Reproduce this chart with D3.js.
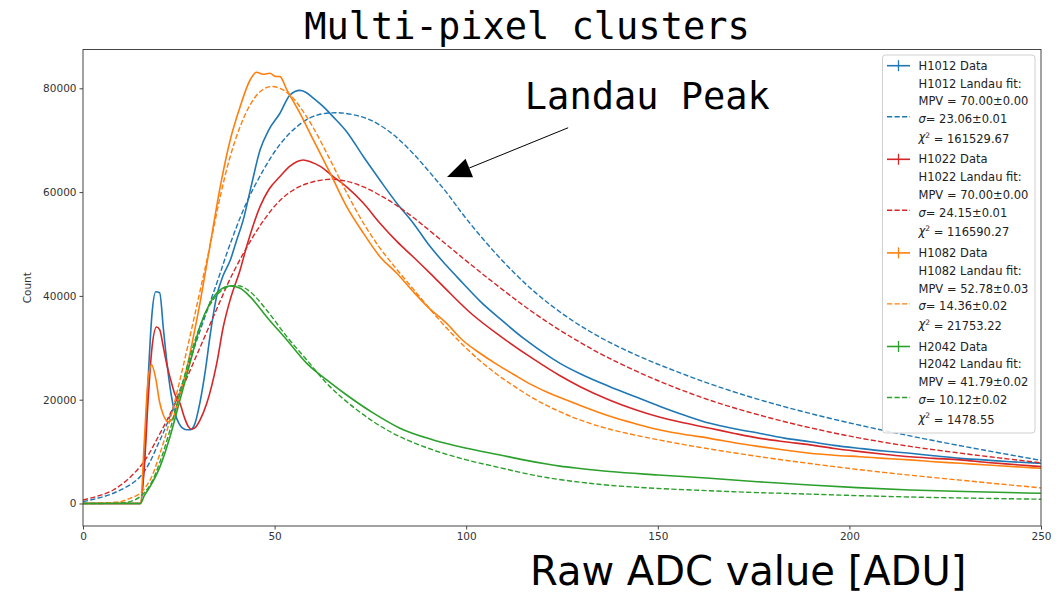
<!DOCTYPE html>
<html>
<head>
<meta charset="UTF-8">
<title>Multi-pixel clusters</title>
<script src="https://cdn.jsdelivr.net/npm/d3@7"></script>
<style>
body { margin: 0; background: #fff; }
text { font-family: "DejaVu Sans", sans-serif; }
.mono { font-family: "DejaVu Sans Mono", monospace; }
</style>
</head>
<body>
<script>
// detectors, colours and fit results (legend text)
var detectors = ["H1012", "H1022", "H1082", "H2042"];
var colors = ["#1f77b4", "#d62728", "#ff7f0e", "#2ca02c"];
var mpvText = ["70.00\u00b10.00", "70.00\u00b10.00", "52.78\u00b10.03", "41.79\u00b10.02"];
var sigmaText = ["23.06\u00b10.01", "24.15\u00b10.01", "14.36\u00b10.02", "10.12\u00b10.02"];
var chi2Text = ["161529.67", "116590.27", "21753.22", "1478.55"];

var xTicks = [0, 50, 100, 150, 200, 250];
var yTicks = [0, 20000, 40000, 60000, 80000];

// measured histograms [ADC, count]
var h1012Data = [[0,0],[15,0],[16,8000],[17,24000],[18,36500],[19,40800],[20,40600],[21,33500],[22,26500],[23,21000],[24,17400],[25,15500],[26,14500],[27,14200],[28,14200],[29,15000],[30.5,19400],[32,26000],[33.1,32000],[34.9,40000],[36.5,43800],[38.5,47000],[40,50500],[41.8,54600],[44,61500],[46.2,68100],[48.5,72000],[51.4,75200],[54,78700],[56.6,79600],[58,79300],[60.1,78100],[62.5,76600],[65.3,74500],[68.8,71650],[73.2,66800],[77.5,62300],[81.9,57850],[86.2,54000],[90.6,49500],[94.9,45800],[99.2,42400],[103.6,39000],[108.8,35600],[115,31800],[121.9,28200],[124.5,27000],[130,24900],[137.5,22500],[144,20600],[150.6,18700],[157,17000],[163.6,15450],[170,14400],[176.7,13500],[183,12600],[189.7,11900],[196,11200],[202.8,10600],[209,10100],[215.8,9670],[222,9200],[228.9,8700],[235,8400],[242,8050],[250,7750]];
var h1022Data = [[0,0],[15,0],[16,7000],[17,20000],[18,30000],[19.2,34000],[20,33500],[21,30000],[21.8,27000],[23,23500],[24,21000],[25.3,19300],[26.5,16500],[27.5,14800],[28.4,14300],[29.5,14800],[30.5,16000],[32.3,19300],[34.9,27000],[36.6,34000],[38.5,39500],[41,45000],[42.7,49500],[46.2,57200],[48.5,60500],[51.4,63000],[54,65000],[57.5,66200],[59.5,65800],[61.8,65000],[65.3,63000],[68.8,61000],[73.2,57850],[77.5,54000],[81.9,50500],[86.2,47500],[90.6,44350],[95.8,40500],[101,36800],[108.8,32300],[117.4,27900],[124.5,24600],[130,22400],[137.5,19900],[144,18100],[150.6,16600],[157,15500],[163.6,14500],[170,13500],[176.7,12550],[183,11900],[189.7,11300],[196,10600],[202.8,10000],[209,9500],[215.8,9000],[222,8700],[228.9,8400],[236,7900],[243,7500],[250,7100]];
var h1082Data = [[0,0],[15,0],[16,12000],[17,24000],[17.9,26700],[19,24000],[20,19500],[21,17000],[22.3,15750],[23.5,16500],[25,20500],[27,25700],[28.5,31000],[30.5,38500],[31.8,44000],[33.1,49500],[35.8,61000],[38.4,70000],[41,76450],[43.6,81600],[45.3,83100],[47,82700],[48.8,82900],[50.2,82300],[51.4,82250],[53.2,79700],[56.6,75200],[60.1,70050],[64.5,63650],[68.8,57200],[73.2,52050],[77.5,47550],[81.9,44350],[86.2,40800],[90.5,37500],[94.9,34700],[99,31500],[103.6,28950],[108,26800],[112.3,24900],[117,22900],[121,21500],[124.5,20400],[129.7,18900],[137.5,16800],[144,15400],[150.6,14150],[157,13300],[163.6,12550],[170,11700],[176.7,10950],[183,10300],[189.7,9670],[196,9300],[202.8,9000],[209,8700],[215.8,8400],[222,8050],[228.9,7750],[236,7400],[243,7100],[250,6780]];
var h2042Data = [[0,0],[15,0],[16,1500],[17.5,3240],[20.1,7100],[22.7,12870],[25.3,19950],[27.9,27000],[30.5,34070],[33.1,38580],[35.8,41150],[38.4,41900],[41,41470],[43.6,39850],[47.9,36000],[53.2,31500],[58.4,27000],[63.6,23800],[68.8,20900],[75.8,17400],[82.7,14500],[91.4,12240],[100.1,10640],[108.8,9350],[115,8400],[121,7600],[124.5,7200],[129.7,6750],[137.5,6150],[150,5500],[163.6,4860],[176,4200],[189.7,3560],[202,3050],[215.8,2600],[230,2300],[250,1970]];

// Landau fit curves [ADC, count]
var h1012Fit = [[0,350],[7.9,1970],[14.9,5160],[20.1,12240],[25.3,21870],[30.5,33200],[34.9,42430],[38.4,50000],[42.7,58000],[47.1,64270],[51.4,69200],[55.8,72600],[60.1,74600],[66.2,75300],[73.2,74400],[77.5,72900],[81.9,70500],[86.2,67400],[90.6,63700],[94.9,59900],[100.1,54800],[108.8,47300],[117.5,41000],[126.2,36000],[135,32000],[145,28400],[155,25400],[165,22700],[177,19900],[190,17300],[205,14700],[220,12400],[235,10300],[250,8300]];
var h1022Fit = [[0,670],[7.9,2600],[14.9,7100],[20.1,13500],[25.3,21240],[30.5,30000],[35.8,39000],[38.4,43300],[42.7,49300],[47.1,54500],[51.4,58400],[55.8,60800],[60.1,62000],[64.5,62470],[68.8,62100],[73.2,61000],[77.5,59400],[81.9,57400],[86.2,55100],[91.4,52000],[100.1,46700],[108.8,41600],[117.5,36800],[126.2,32600],[137,28100],[150.6,23500],[163.6,19900],[176.7,17000],[189.7,14600],[202.8,12600],[215.8,11000],[228.9,9700],[240,8700],[250,7850]];
var h1082Fit = [[0,0],[9.7,350],[12.3,1000],[14.9,1970],[17.5,4530],[20.1,9670],[22.7,16090],[25.3,23800],[27.9,32140],[30.5,40800],[33.1,49480],[35.8,59120],[38.4,66820],[41,72600],[43.6,76790],[46.2,79350],[48.8,80320],[51.4,80000],[54,78720],[56.6,76450],[60.1,72400],[64.5,66200],[68.8,59900],[73.2,54000],[77.5,49200],[81.9,45100],[86.2,41300],[90.5,37500],[94.9,33800],[99.2,30500],[103.6,27500],[108,24900],[112.3,22700],[117,20500],[121,18900],[125,17500],[129.7,16100],[137.5,14300],[150.6,12200],[163.6,10500],[176.7,9000],[189.7,7700],[202.8,6500],[215.8,5450],[228.9,4500],[240,3700],[250,3000]];
var h2042Fit = [[0,0],[10,100],[12.3,350],[14.9,1310],[17.5,3560],[20.1,8050],[22.7,14160],[25.3,21240],[27.9,28290],[30.5,34070],[33.1,38250],[35.8,40810],[38.4,41900],[41,41900],[43.6,40810],[47.9,37290],[53.2,32140],[58.4,27650],[63.6,23160],[68.8,19620],[75.8,15760],[82.7,12870],[91.4,10300],[100.1,8400],[108.8,6900],[115,5850],[121,5000],[129.7,4100],[137.5,3500],[150,2900],[163.6,2450],[176,2100],[189.7,1800],[202.8,1500],[215.8,1250],[230,1050],[250,820]];

var dataSets = [h1012Data, h1022Data, h1082Data, h2042Data];
var fitSets = [h1012Fit, h1022Fit, h1082Fit, h2042Fit];

// annotation, in data units
var annotText = "Landau Peak";
var annotAt = [115.3, 76000];
var arrowFrom = [126.6, 72400];
var arrowTo = [95, 62900];

var width = 1061, height = 593;
var margin = {top: 49.5, right: 20, bottom: 67, left: 83};

var svg = d3.select("body").append("svg")
    .attr("width", width)
    .attr("height", height);

var x = d3.scaleLinear().domain([0, 250]).range([margin.left, width - margin.right]);
var y = d3.scaleLinear().domain([-4340, 87480]).range([height - margin.bottom, margin.top]);

svg.append("defs").append("clipPath").attr("id", "plot")
   .append("rect")
   .attr("x", margin.left).attr("y", margin.top)
   .attr("width", width - margin.left - margin.right)
   .attr("height", height - margin.top - margin.bottom);

// title
svg.append("text").attr("class", "mono")
   .attr("x", 527).attr("y", 39)
   .attr("text-anchor", "middle")
   .style("font-size", "37px")
   .text("Multi-pixel clusters");

// axes
var xAxis = svg.append("g")
    .attr("transform", "translate(0," + (height - margin.bottom) + ")")
    .call(d3.axisBottom(x).tickValues(xTicks).tickSize(3.5).tickPadding(3).tickFormat(d3.format("d")));
var yAxis = svg.append("g")
    .attr("transform", "translate(" + margin.left + ",0)")
    .call(d3.axisLeft(y).tickValues(yTicks).tickSize(3.5).tickPadding(3).tickFormat(d3.format("d")));
[xAxis, yAxis].forEach(function(g){
    g.select(".domain").remove();
    g.selectAll("line").attr("stroke", "#444");
    g.selectAll("text").style("font-size", "10.5px").attr("fill", "#333")
     .style("font-family", "'DejaVu Sans', sans-serif");
});

svg.append("text")
   .attr("transform", "translate(31," + ((margin.top + height - margin.bottom) / 2) + ") rotate(-90)")
   .attr("text-anchor", "middle")
   .style("font-size", "10.5px")
   .attr("fill", "#333")
   .text("Count");

svg.append("text")
   .attr("x", 530).attr("y", 585)
   .style("font-size", "40px")
   .text("Raw ADC value [ADU]");

// curves
var dataLine = d3.line()
    .x(function(d){ return x(d[0]); })
    .y(function(d){ return y(d[1]); })
    .curve(d3.curveMonotoneX);
var fitLine = d3.line()
    .x(function(d){ return x(d[0]); })
    .y(function(d){ return y(d[1]); })
    .curve(d3.curveCatmullRom.alpha(0.5));

var plot = svg.append("g").attr("clip-path", "url(#plot)");
for (var i = 0; i < detectors.length; i++) {
    plot.append("path")
        .attr("d", dataLine(dataSets[i]))
        .attr("fill", "none")
        .attr("stroke", colors[i])
        .attr("stroke-width", 1.6)
        .attr("stroke-linejoin", "round");
    plot.append("path")
        .attr("d", fitLine(fitSets[i]))
        .attr("fill", "none")
        .attr("stroke", colors[i])
        .attr("stroke-width", 1.4)
        .attr("stroke-dasharray", "5.2,2.3");
}

// frame
svg.append("rect")
   .attr("x", margin.left).attr("y", margin.top)
   .attr("width", width - margin.left - margin.right)
   .attr("height", height - margin.top - margin.bottom)
   .attr("fill", "none")
   .attr("stroke", "#444")
   .attr("stroke-width", 1);

// annotation
var tip = [x(arrowTo[0]), y(arrowTo[1])];
var tail = [x(arrowFrom[0]), y(arrowFrom[1])];
var dx = tip[0] - tail[0], dy = tip[1] - tail[1];
var len = Math.sqrt(dx * dx + dy * dy);
var ux = dx / len, uy = dy / len;
var headL = 24, headW = 10;
var bx = tip[0] - ux * headL, by = tip[1] - uy * headL;
svg.append("line")
   .attr("x1", tail[0]).attr("y1", tail[1])
   .attr("x2", bx).attr("y2", by)
   .attr("stroke", "#000").attr("stroke-width", 1);
svg.append("path")
   .attr("d", "M" + tip[0] + "," + tip[1] +
              "L" + (bx - uy * headW) + "," + (by + ux * headW) +
              "L" + (bx + uy * headW) + "," + (by - ux * headW) + "Z")
   .attr("fill", "#000");
svg.append("text").attr("class", "mono")
   .attr("x", x(annotAt[0])).attr("y", y(annotAt[1]))
   .style("font-size", "37px")
   .text(annotText);

// legend
var lg = svg.append("g");
lg.append("rect")
  .attr("x", 882.5).attr("y", 55)
  .attr("width", 152.5).attr("height", 378)
  .attr("rx", 3)
  .attr("fill", "#fff").attr("fill-opacity", 0.85)
  .attr("stroke", "#d0d0d0");

var rowH = 17.8, groupH = 93.6, top0 = 65.7;
var tx = 918.5, h0 = 887, h1 = 910;
for (var i = 0; i < detectors.length; i++) {
    var gy = top0 + i * groupH;
    lg.append("line").attr("x1", h0).attr("x2", h1).attr("y1", gy).attr("y2", gy)
      .attr("stroke", colors[i]).attr("stroke-width", 1.6);
    lg.append("line").attr("x1", (h0 + h1) / 2).attr("x2", (h0 + h1) / 2)
      .attr("y1", gy - 5.5).attr("y2", gy + 5.5)
      .attr("stroke", colors[i]).attr("stroke-width", 1.3);
    lg.append("line").attr("x1", h0).attr("x2", h1).attr("y1", gy + 51).attr("y2", gy + 51)
      .attr("stroke", colors[i]).attr("stroke-width", 1.4)
      .attr("stroke-dasharray", "5.2,2.3");

    var rows = [detectors[i] + " Data", detectors[i] + " Landau fit:", "MPV = " + mpvText[i]];
    rows.forEach(function(r, k){
        lg.append("text").attr("x", tx).attr("y", gy + k * rowH).attr("dy", "0.36em")
          .style("font-size", "11.5px").attr("fill", "#222").text(r);
    });
    var s = lg.append("text").attr("x", tx).attr("y", gy + 3 * rowH).attr("dy", "0.36em")
          .style("font-size", "11.5px").attr("fill", "#222");
    s.append("tspan").style("font-style", "italic").text("\u03c3");
    s.append("tspan").text("= " + sigmaText[i]);
    var c = lg.append("text").attr("x", tx).attr("y", gy + 4 * rowH).attr("dy", "0.36em")
          .style("font-size", "11.5px").attr("fill", "#222");
    c.append("tspan").style("font-style", "italic").text("\u03c7");
    c.append("tspan").attr("dy", "-0.45em").style("font-size", "7.5px").text("2");
    c.append("tspan").attr("dy", "0.45em").text(" = " + chi2Text[i]);
}
</script>
</body>
</html>
